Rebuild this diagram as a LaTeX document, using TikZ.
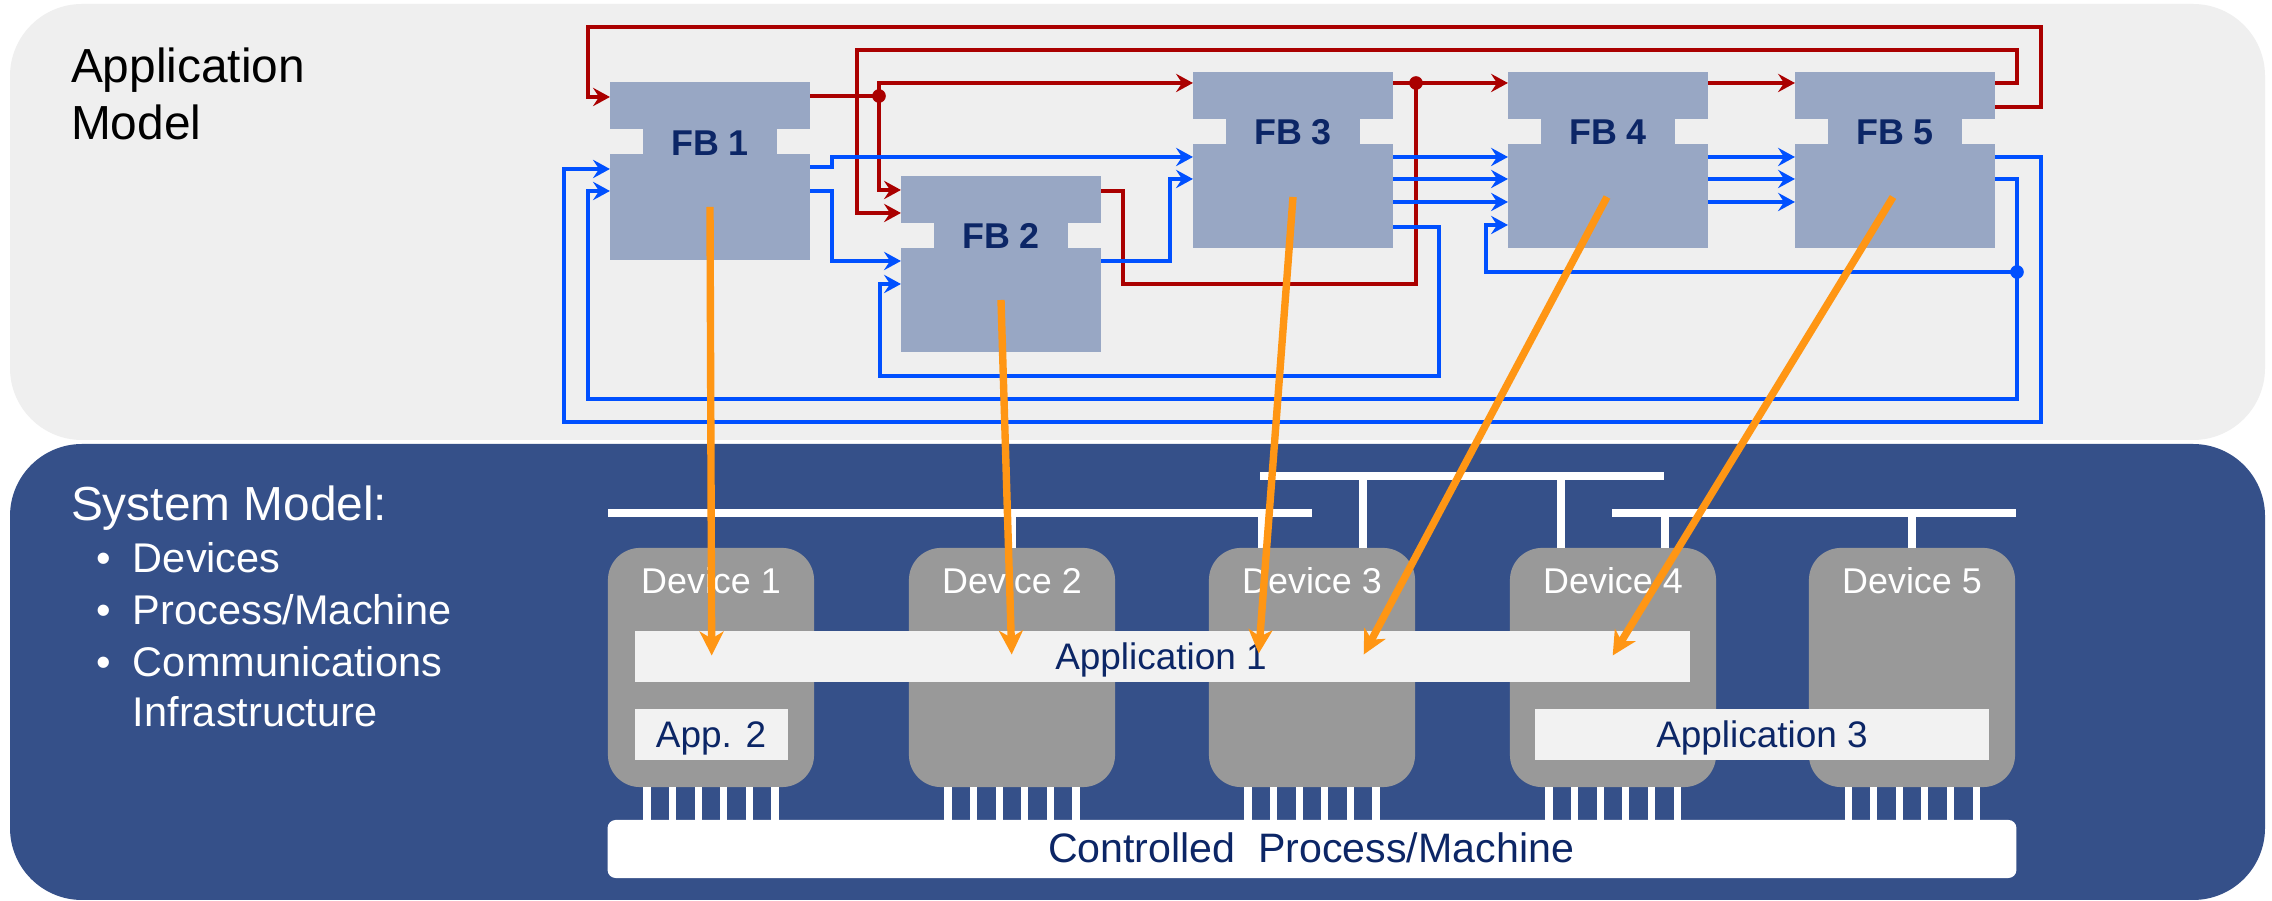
\documentclass[tikz,border=0pt]{standalone}
\usepackage{fontspec}
\setmainfont{Liberation Sans}
\usetikzlibrary{arrows.meta,calc}
\definecolor{topbg}{RGB}{239,239,239}
\definecolor{botbg}{RGB}{53,80,137}
\definecolor{fbfill}{RGB}{152,167,196}
\definecolor{navy}{RGB}{12,38,102}
\definecolor{evred}{RGB}{170,0,0}
\definecolor{datblue}{RGB}{0,80,255}
\definecolor{maporange}{RGB}{255,150,20}
\definecolor{devgray}{RGB}{153,153,153}
\definecolor{appbg}{RGB}{242,242,242}
\begin{document}
\begin{tikzpicture}[x=0.01cm,y=-0.01cm,
  txt/.style={inner sep=0pt,outer sep=0pt},
  fbbox/.style={fill=fbfill,draw=none,minimum width=2cm,minimum height=1.76cm,inner sep=0pt,outer sep=0pt},
  fblab/.style={txt,font=\bfseries\fontsize{10.2}{12}\selectfont,text=navy},
  ev/.style={evred,line width=1pt},
  dat/.style={datblue,line width=1pt},
  tip/.style={-{Stealth[length=4.8pt,width=5.2pt,inset=1.7pt]}},
  map/.style={maporange,line width=2.1pt,-{Stealth[length=6.8pt,width=6.8pt,inset=2pt]}},
  device/.style={fill=devgray,draw=none,rounded corners=0.32cm,minimum width=2.06cm,minimum height=2.39cm,inner sep=0pt,outer sep=0pt},
  devlab/.style={txt,anchor=base,text=white,font=\fontsize{10.2}{12}\selectfont},
  appbar/.style={fill=appbg,draw=none,inner sep=0pt,outer sep=0pt,minimum height=0.51cm},
  applab/.style={txt,anchor=base,text=navy,font=\fontsize{10.5}{12}\selectfont},
  bus/.style={white,line width=2.3pt},
  pin/.style={white,line width=2pt},
  bigtxt/.style={txt,anchor=base west,font=\fontsize{13.6}{16}\selectfont},
  bultxt/.style={txt,anchor=base west,text=white,font=\fontsize{11.8}{14}\selectfont}
]
\useasboundingbox (0,0) rectangle (2272,901);
\fill[white] (0,0) rectangle (2272,901);
% panels
\fill[topbg,rounded corners=0.72cm] (10,4) rectangle (2265,440);
\fill[botbg,rounded corners=0.72cm] (10,444) rectangle (2265,900);

% panel titles
\node[bigtxt] (amt1) at (71,83) {Application};
\node[bigtxt] (amt2) at (71,140) {Model};
\node[bigtxt,text=white] (smt) at (71,521) {System Model:};
\node[bultxt] (b1) at (97,573) {•};
\node[bultxt] (b1t) at (133,573) {Devices};
\node[bultxt] (b2) at (97,625) {•};
\node[bultxt] (b2t) at (133,625) {Process/Machine};
\node[bultxt] (b3) at (97,677) {•};
\node[bultxt] (b3t) at (133,677) {Communications};
\node[bultxt] (b4t) at (133,727) {Infrastructure};

% function blocks
\node[fbbox,minimum height=1.78cm] (fb1) at (710,171) {};
\node[fbbox] (fb2) at (1001,264) {};
\node[fbbox] (fb3) at (1293,160) {};
\node[fbbox] (fb4) at (1608,160) {};
\node[fbbox] (fb5) at (1895,160) {};
\foreach \f in {fb1,fb2,fb3,fb4,fb5}{
  \fill[topbg] ($(\f.north west)+(0,47)$) rectangle ($(\f.north west)+(33,72)$);
  \fill[topbg] ($(\f.north east)+(-33,47)$) rectangle ($(\f.north east)+(0,72)$);
}
\node[fblab] (fb1t) at ($(fb1.north)+(0,61)$) {FB 1};
\node[fblab] (fb2t) at ($(fb2.north)+(0,60)$) {FB 2};
\node[fblab] (fb3t) at ($(fb3.north)+(0,60)$) {FB 3};
\node[fblab] (fb4t) at ($(fb4.north)+(0,60)$) {FB 4};
\node[fblab] (fb5t) at ($(fb5.north)+(0,60)$) {FB 5};

% junctions
\coordinate (j1) at (879,96);
\coordinate (j2) at (1416,83);
\coordinate (j3) at (2017,272);

% event connections (red)
\draw[ev,tip] (fb5.east |- 0,107) -- (2041,107) -- (2041,27) -- (588,27) -- (588,97) -- (fb1.west |- 0,97);
\draw[ev,tip] (fb5.east |- 0,83) -- (2017,83) -- (2017,50) -- (857,50) -- (857,213) -- (fb2.west |- 0,213);
\draw[ev] (fb1.east |- 0,96) -- (j1);
\draw[ev,tip] (j1) -- (j1 |- 0,83) -- (fb3.west |- 0,83);
\draw[ev,tip] (j1) -- (j1 |- 0,190) -- (fb2.west |- 0,190);
\draw[ev,tip] (fb3.east |- 0,83) -- (fb4.west |- 0,83);
\draw[ev] (fb2.east |- 0,191) -- (1123,191) -- (1123,284) -- (j2 |- 0,284) -- (j2);
\draw[ev,tip] (fb4.east |- 0,83) -- (fb5.west |- 0,83);
\fill[evred] (j1) circle (0.068cm);
\fill[evred] (j2) circle (0.068cm);

% data connections (blue)
\draw[dat,tip] (fb1.east |- 0,167) -- (832,167) -- (832,157) -- (fb3.west |- 0,157);
\draw[dat,tip] (fb1.east |- 0,191) -- (832,191) -- (832,261) -- (fb2.west |- 0,261);
\draw[dat,tip] (fb3.east |- 0,227) -- (1439,227) -- (1439,376) -- (880,376) -- (880,284) -- (fb2.west |- 0,284);
\draw[dat,tip] (fb2.east |- 0,261) -- (1170,261) -- (1170,179) -- (fb3.west |- 0,179);
\foreach \yy in {157,179,202}{
  \draw[dat,tip] (fb3.east |- 0,\yy) -- (fb4.west |- 0,\yy);
  \draw[dat,tip] (fb4.east |- 0,\yy) -- (fb5.west |- 0,\yy);
}
\draw[dat,tip] (j3) -- (1486,272) -- (1486,225) -- (fb4.west |- 0,225);
\draw[dat,tip] (fb5.east |- 0,157) -- (2041,157) -- (2041,422) -- (564,422) -- (564,169) -- (fb1.west |- 0,169);
\draw[dat,tip] (fb5.east |- 0,179) -- (2017,179) -- (2017,399) -- (588,399) -- (588,191) -- (fb1.west |- 0,191);
\fill[datblue] (j3) circle (0.068cm);

% system model: devices
\node[device] (dev1) at (711,667.5) {};
\node[device] (dev2) at (1012,667.5) {};
\node[device] (dev3) at (1312,667.5) {};
\node[device] (dev4) at (1613,667.5) {};
\node[device] (dev5) at (1912,667.5) {};
\node[devlab] (dev1t) at ($(dev1.north)+(0,46)$) {Device 1};
\node[devlab] (dev2t) at ($(dev2.north)+(0,46)$) {Device 2};
\node[devlab] (dev3t) at ($(dev3.north)+(0,46)$) {Device 3};
\node[devlab] (dev4t) at ($(dev4.north)+(0,46)$) {Device 4};
\node[devlab] (dev5t) at ($(dev5.north)+(0,46)$) {Device 5};

% communication buses
\draw[bus] (608,513) -- (1312,513);
\draw[bus] (1260,476) -- (1664,476);
\draw[bus] (1612,513) -- (2016,513);
\draw[bus] (dev2.north |- 0,513) -- (dev2.north);
\draw[bus] (1262,513) -- (1262,0 |- dev3.north);
\draw[bus] (1363,476) -- (1363,0 |- dev3.north);
\draw[bus] (1561,476) -- (1561,0 |- dev4.north);
\draw[bus] (1665,513) -- (1665,0 |- dev4.north);
\draw[bus] (dev5.north |- 0,513) -- (dev5.north);

% applications
\node[appbar,minimum width=10.55cm] (app1) at (1162.5,656.5) {};
\node[appbar,minimum width=1.53cm] (app2) at (711.5,734.5) {};
\node[appbar,minimum width=4.54cm] (app3) at (1762,734.5) {};
\node[applab] (app1t) at (1161,670) {Application 1};
\node[applab] (app2t) at (711,748) {App. 2};
\node[applab] (app3t) at (1762,748) {Application 3};

% controlled process
\node[fill=white,draw=none,rounded corners=0.08cm,minimum width=14.08cm,minimum height=0.58cm,inner sep=0pt] (proc) at (1312,849) {};
\node[applab,font=\fontsize{11.7}{14}\selectfont] (proct) at (1311,863) {Controlled\ \ Process/Machine};
\foreach \d in {dev1,dev2,dev3,dev4,dev5}{
  \foreach \o in {-64,-38.4,-12.8,12.8,38.4,64}{
    \draw[pin] ($(\d.south)+(\o,0)$) -- ++(0,33);
  }
}

% mapping arrows (orange)
\draw[map] ($(fb1)+(0,36)$) -- ($(app1.west)+(77,-1)$);
\draw[map] ($(fb2)+(0,36)$) -- ($(app1.west)+(377,-2)$);
\draw[map] ($(fb3)+(0,37)$) -- ($(app1.west)+(624,-3)$);
\draw[map] ($(fb4)+(-1,37)$) -- ($(app1.west)+(729,-2)$);
\draw[map] ($(fb5)+(-2,37)$) -- ($(app1.west)+(978,-1)$);
\end{tikzpicture}
\end{document}
